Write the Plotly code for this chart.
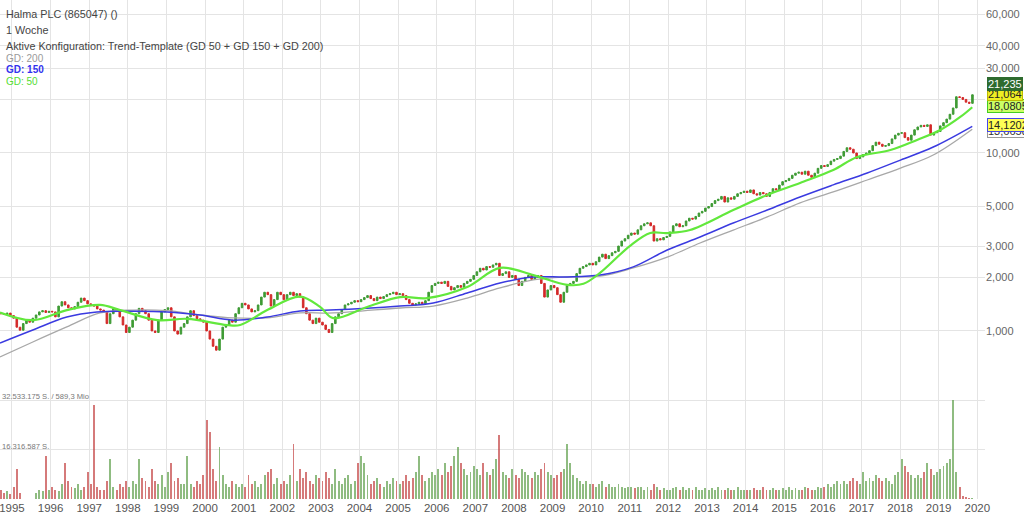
import plotly.graph_objects as go

# ---------------- data ----------------
start_year, start_month = 1994, 9          # first candle: Sep 1994 (monthly candles)
closes = [
    1250, 1240, 1260, 1220,                                                   # 1994 Sep-Dec
    1180, 1050, 1010, 1100, 1150, 1120, 1180, 1230, 1280, 1300, 1270, 1290,   # 1995
    1280, 1200, 1380, 1460, 1400, 1350, 1330, 1370, 1450, 1530, 1480, 1420,   # 1996
    1400, 1380, 1330, 1310, 1280, 1100, 1250, 1330, 1310, 1200, 1080, 980,    # 1997
    1050, 1150, 1250, 1340, 1300, 1250, 1150, 1000, 980, 1150, 1280, 1320,    # 1998
    1350, 1200, 1000, 960, 1050, 1100, 1200, 1300, 1220, 1170, 1150, 1120,    # 1999
    1000, 900, 820, 780, 900, 1050, 1080, 1150, 1120, 1250, 1350, 1430,       # 2000
    1400, 1330, 1280, 1300, 1400, 1550, 1650, 1600, 1380, 1500, 1650, 1600,   # 2001
    1500, 1600, 1650, 1580, 1620, 1550, 1350, 1250, 1150, 1100, 1180, 1120,   # 2002
    1080, 1020, 980, 1100, 1200, 1250, 1320, 1400, 1420, 1450, 1480, 1460,    # 2003
    1500, 1540, 1580, 1520, 1480, 1550, 1520, 1560, 1600, 1620, 1650, 1600,   # 2004
    1620, 1580, 1500, 1430, 1400, 1420, 1450, 1420, 1480, 1650, 1800, 1850,   # 2005
    1880, 1850, 1900, 1780, 1700, 1750, 1800, 1760, 1850, 1900, 1950, 2050,   # 2006
    2150, 2250, 2200, 2300, 2280, 2350, 2400, 2050, 2100, 2150, 2000, 2050,   # 2007
    1950, 1800, 1900, 2000, 2050, 1950, 2000, 2050, 1850, 1550, 1700, 1800,   # 2008
    1750, 1600, 1450, 1650, 1800, 1850, 1900, 2100, 2250, 2300, 2350, 2400,   # 2009
    2350, 2450, 2600, 2700, 2550, 2650, 2750, 2800, 3000, 3200, 3300, 3450,   # 2010
    3550, 3500, 3700, 3900, 4000, 4050, 3900, 3200, 3300, 3250, 3350, 3400,   # 2011
    3600, 3900, 4000, 3850, 3900, 4150, 4300, 4250, 4400, 4600, 4700, 4900,   # 2012
    5000, 5200, 5400, 5500, 5700, 5300, 5600, 5500, 5700, 5900, 6000, 6100,   # 2013
    6000, 6200, 5900, 5800, 6000, 5900, 5700, 6000, 6300, 6200, 6600, 6900,   # 2014
    7000, 7200, 7500, 7700, 7800, 7600, 7900, 7500, 7300, 7700, 8200, 8500,   # 2015
    8400, 8600, 9000, 9200, 9300, 9600, 10200, 10700, 10500, 10000, 9300, 9500,   # 2016
    9800, 10000, 10300, 11000, 11500, 11200, 10900, 11000, 11300, 12000, 12600, 12900,  # 2017
    13000, 12200, 11800, 12600, 13500, 14000, 14300, 14100, 14400, 12600, 13000, 13200,  # 2018
    14200, 14800, 15500, 16500, 17900, 20700, 20500, 20000, 19300, 19000, 21235,        # 2019 Jan-Nov
]
first_open = 1260

volumes_m = [   # million shares per bar
    3, 2, 2.5, 1.5,
    4, 10, 2, 0, 0, 0, 0, 2, 3, 2.5, 14, 3,
    4, 3, 2.5, 5, 12, 6, 4, 3.5, 5, 3, 4, 9,
    5, 31, 4, 3, 3, 6, 13, 4, 3, 5, 4, 6,
    4, 6, 5, 13, 7, 6, 4, 10, 6, 5, 8, 4,
    9, 12, 6, 7, 5, 5, 14, 5, 4, 6, 5, 8,
    26, 22, 10, 6, 17, 8, 5, 4, 6, 5, 4, 5,
    4, 8, 5, 6, 4, 5, 8, 9, 10, 5, 7, 5,
    6, 5, 8, 18, 6, 10, 7, 9, 6, 5, 8, 7,
    6, 9, 7, 5, 10, 6, 5, 7, 8, 5, 6, 12,
    14, 12, 8, 5, 6, 7, 5, 4, 6, 5, 7, 6,
    5, 6, 8, 6, 7, 9, 14, 8, 6, 7, 9, 8,
    10, 8, 12, 9, 11, 14, 17, 12, 10, 8, 9, 11,
    10, 8, 12, 9, 8, 10, 13, 21, 9, 8, 7, 10,
    8, 7, 10, 9, 8, 7, 9, 8, 10, 12, 9, 8,
    7, 8, 9, 10, 18, 12, 8, 7, 6, 5, 6, 5,
    5, 4, 5, 6, 4, 5, 4, 4, 5, 4, 3.5, 4,
    4, 3.5, 4, 4, 3, 4, 3, 5, 4, 3, 3.5, 3,
    3, 3.5, 4, 3, 4, 3, 3.5, 3, 4, 3, 3, 3.5,
    3, 3.5, 3, 4, 3, 3, 3.5, 3, 3, 4, 3, 3,
    3, 3, 3.5, 3, 3, 4, 3, 3, 3.5, 3, 3, 3.5,
    3, 4, 3, 3.5, 3, 3, 4, 3.5, 3, 3, 4, 3.5,
    4, 5, 4, 5, 6, 5, 6, 5, 6, 7, 6, 5,
    9, 6, 7, 6, 8, 7, 6, 7, 6, 5, 8, 9,
    13, 11, 9, 8, 7, 8, 7, 9, 12, 10, 8, 9,
    10, 11, 12, 13, 32.5, 9, 4, 1, 0.5, 0.3, 0.3,
]

# moving averages (decimal year, value)
gd50_x = [1994.69, 1995.54, 1996.42, 1997.28, 1997.80, 1998.76, 1999.54, 2000.57, 2000.91,
          2001.61, 2002.46, 2002.98, 2003.32, 2004.20, 2005.05, 2005.75, 2006.79, 2007.64,
          2008.50, 2009.38, 2009.80, 2010.23, 2011.00, 2011.53, 2011.97, 2012.56, 2013.68,
          2014.56, 2015.41, 2016.27, 2016.89, 2017.75, 2018.44, 2019.04, 2019.56, 2019.87]
gd50_y = [1270, 1150, 1310, 1400, 1310, 1150, 1170, 1080, 1080,
          1310, 1560, 1364, 1180, 1364, 1550, 1530, 1766, 2260,
          2060, 1815, 1840, 2120, 3000, 3550, 3550, 3690, 4780,
          5810, 6790, 8020, 9500, 10390, 11840, 13460, 15940, 18080]

gd150_x = [1994.69, 1995.54, 1996.42, 1997.20, 1998.13, 1999.02, 1999.87, 2000.73, 2001.61,
           2002.46, 2003.24, 2005.05, 2005.91, 2006.79, 2007.64, 2008.50, 2009.38, 2010.23,
           2011.09, 2011.97, 2012.82, 2013.68, 2014.56, 2015.41, 2016.27, 2017.15, 2018.01,
           2018.86, 2019.87]
gd150_y = [856, 1013, 1198, 1280, 1290, 1280, 1230, 1150, 1198,
           1295, 1310, 1380, 1436, 1635, 1860, 2010, 2010, 2060,
           2290, 2850, 3370, 4040, 4780, 5660, 6620, 7720, 9120,
           10800, 14120]

gd200_x = [1994.69, 1995.54, 1996.42, 1997.28, 1998.13, 1999.02, 1999.87, 2000.73, 2001.61,
           2002.46, 2003.32, 2005.05, 2005.91, 2006.79, 2007.64, 2008.50, 2009.38, 2010.23,
           2011.09, 2011.97, 2012.82, 2013.68, 2014.56, 2015.41, 2016.27, 2017.15, 2018.01,
           2018.86, 2019.87]
gd200_y = [714, 867, 1053, 1262, 1310, 1300, 1230, 1183, 1183,
           1262, 1262, 1346, 1380, 1530, 1745, 1935, 2010, 2030,
           2260, 2600, 3120, 3690, 4370, 5240, 6040, 7050, 8220,
           9740, 13600]

price_ticks = [1000, 2000, 3000, 5000, 10000, 20000, 30000, 40000, 60000]
price_tick_text = ["1,000", "2,000", "3,000", "5,000", "10,000", "", "30,000", "40,000", "60,000"]
years = list(range(1995, 2021))
vol_grid = [16.316587, 32.533175]

# ---------------- build ----------------
n = len(closes)
assert len(volumes_m) == n
xs = [start_year + (start_month - 1 + i + 0.5) / 12 for i in range(n)]
opens = [first_open] + closes[:-1]
highs = [max(o, c) for o, c in zip(opens, closes)]
lows = [min(o, c) for o, c in zip(opens, closes)]

UP, DOWN = "#3f9b35", "#d42a2a"
vol_colors = ["rgba(95,160,75,0.7)" if c >= o else "rgba(195,65,65,0.7)"
              for o, c in zip(opens, closes)]

fig = go.Figure()
fig.add_trace(go.Candlestick(
    x=xs, open=opens, high=highs, low=lows, close=closes,
    increasing=dict(line=dict(color=UP, width=1), fillcolor=UP),
    decreasing=dict(line=dict(color=DOWN, width=1), fillcolor=DOWN),
    whiskerwidth=0, xaxis="x", yaxis="y", showlegend=False, hoverinfo="skip"))
fig.add_trace(go.Scatter(x=gd200_x, y=gd200_y, mode="lines", line=dict(color="#a8a8a8", width=1.3, shape="spline"),
                         xaxis="x", yaxis="y", showlegend=False, hoverinfo="skip"))
fig.add_trace(go.Scatter(x=gd150_x, y=gd150_y, mode="lines", line=dict(color="#3a3ae0", width=1.5, shape="spline"),
                         xaxis="x", yaxis="y", showlegend=False, hoverinfo="skip"))
fig.add_trace(go.Scatter(x=gd50_x, y=gd50_y, mode="lines", line=dict(color="#62e83c", width=2.2, shape="spline"),
                         xaxis="x", yaxis="y", showlegend=False, hoverinfo="skip"))
fig.add_trace(go.Bar(x=xs, y=volumes_m, marker=dict(color=vol_colors, line=dict(width=0)),
                     width=1 / 12 * 0.6, xaxis="x", yaxis="y2", showlegend=False, hoverinfo="skip"))

W, H, T, B = 1024, 521, 0, 22
PH = H - T - B
def py(p):   # pixel row -> paper y
    return 1 - (p - T) / PH

split = py(392)
grid = "#e4e4e4"
font = "Liberation Sans, Arial, sans-serif"

fig.update_layout(
    width=W, height=H, margin=dict(l=0, r=39, t=T, b=B, autoexpand=False),
    paper_bgcolor="white", plot_bgcolor="white",
    font=dict(family=font, color="#555555"),
    bargap=0,
    xaxis=dict(range=[1994.69, 2020.2], tickvals=years, ticktext=[str(y) for y in years],
               showgrid=True, gridcolor=grid, gridwidth=1, zeroline=False, showline=False,
               ticks="", tickfont=dict(size=11.5, color="#555555"), anchor="y2",
               automargin=False, ticklabeloverflow="allow", rangeslider=dict(visible=False)),
    yaxis=dict(type="log", domain=[split, 1], range=[2.657, 4.8596], side="right",
               tickvals=price_ticks, ticktext=price_tick_text,
               showgrid=True, gridcolor=grid, zeroline=False, showline=False,
               ticks="", tickfont=dict(size=11, color="#666666"), anchor="x",
               automargin=False, ticklabeloverflow="allow"),
    yaxis2=dict(domain=[0, split], range=[0, 35.2], tickvals=vol_grid, showticklabels=False,
                showgrid=True, gridcolor=grid, zeroline=False, showline=False, side="right",
                anchor="x", automargin=False),
)

ann = []
header = [("Halma PLC (865047) ()", 14, "#444444", 10.8),
          ("1 Woche", 30, "#444444", 10.8),
          ("Aktive Konfiguration: Trend-Template (GD 50 + GD 150 + GD 200)", 46, "#444444", 10.8),
          ("GD: 200", 58, "#9a9a9a", 10),
          ("<b>GD: 150</b>", 69, "#3333ee", 10),
          ("GD: 50", 81, "#55dd33", 10)]
for txt, p, col, sz in header:
    ann.append(dict(text=txt, xref="paper", yref="paper", x=0, y=py(p), xanchor="left",
                    yanchor="middle", xshift=4, showarrow=False, font=dict(size=sz, color=col)))

ann.append(dict(text="32.533.175 S. / 589,3 Mio", xref="paper", yref="paper", x=0, y=py(396),
                xanchor="left", yanchor="middle", showarrow=False, font=dict(size=7.6, color="#777777")))
ann.append(dict(text="16.316.587 S.", xref="paper", yref="paper", x=0, y=py(446),
                xanchor="left", yanchor="middle", showarrow=False, font=dict(size=7.6, color="#777777")))

boxes = [("13,6658", 131, "#ffffff", "#999999", "#333333"),
         ("14,1202", 125, "#ffff55", "#4444ee", "#222222"),
         ("18,0805", 106, "#ccff66", "#44cc22", "#222222"),
         ("21,064", 94, "#eeee22", "#bbbb00", "#222222"),
         ("21,235", 84, "#2e6b2e", "#2e6b2e", "#ffffff")]
for txt, p, bg, bd, fc in boxes:
    ann.append(dict(text=txt, xref="paper", yref="paper", x=1, y=py(p), xanchor="left",
                    yanchor="middle", xshift=2, showarrow=False, bgcolor=bg, bordercolor=bd,
                    borderwidth=1, borderpad=0, font=dict(size=11, color=fc)))
fig.update_layout(annotations=ann)

fig.write_html("out.html", config={"displayModeBar": False},
               post_script="document.body.style.margin='0';")
